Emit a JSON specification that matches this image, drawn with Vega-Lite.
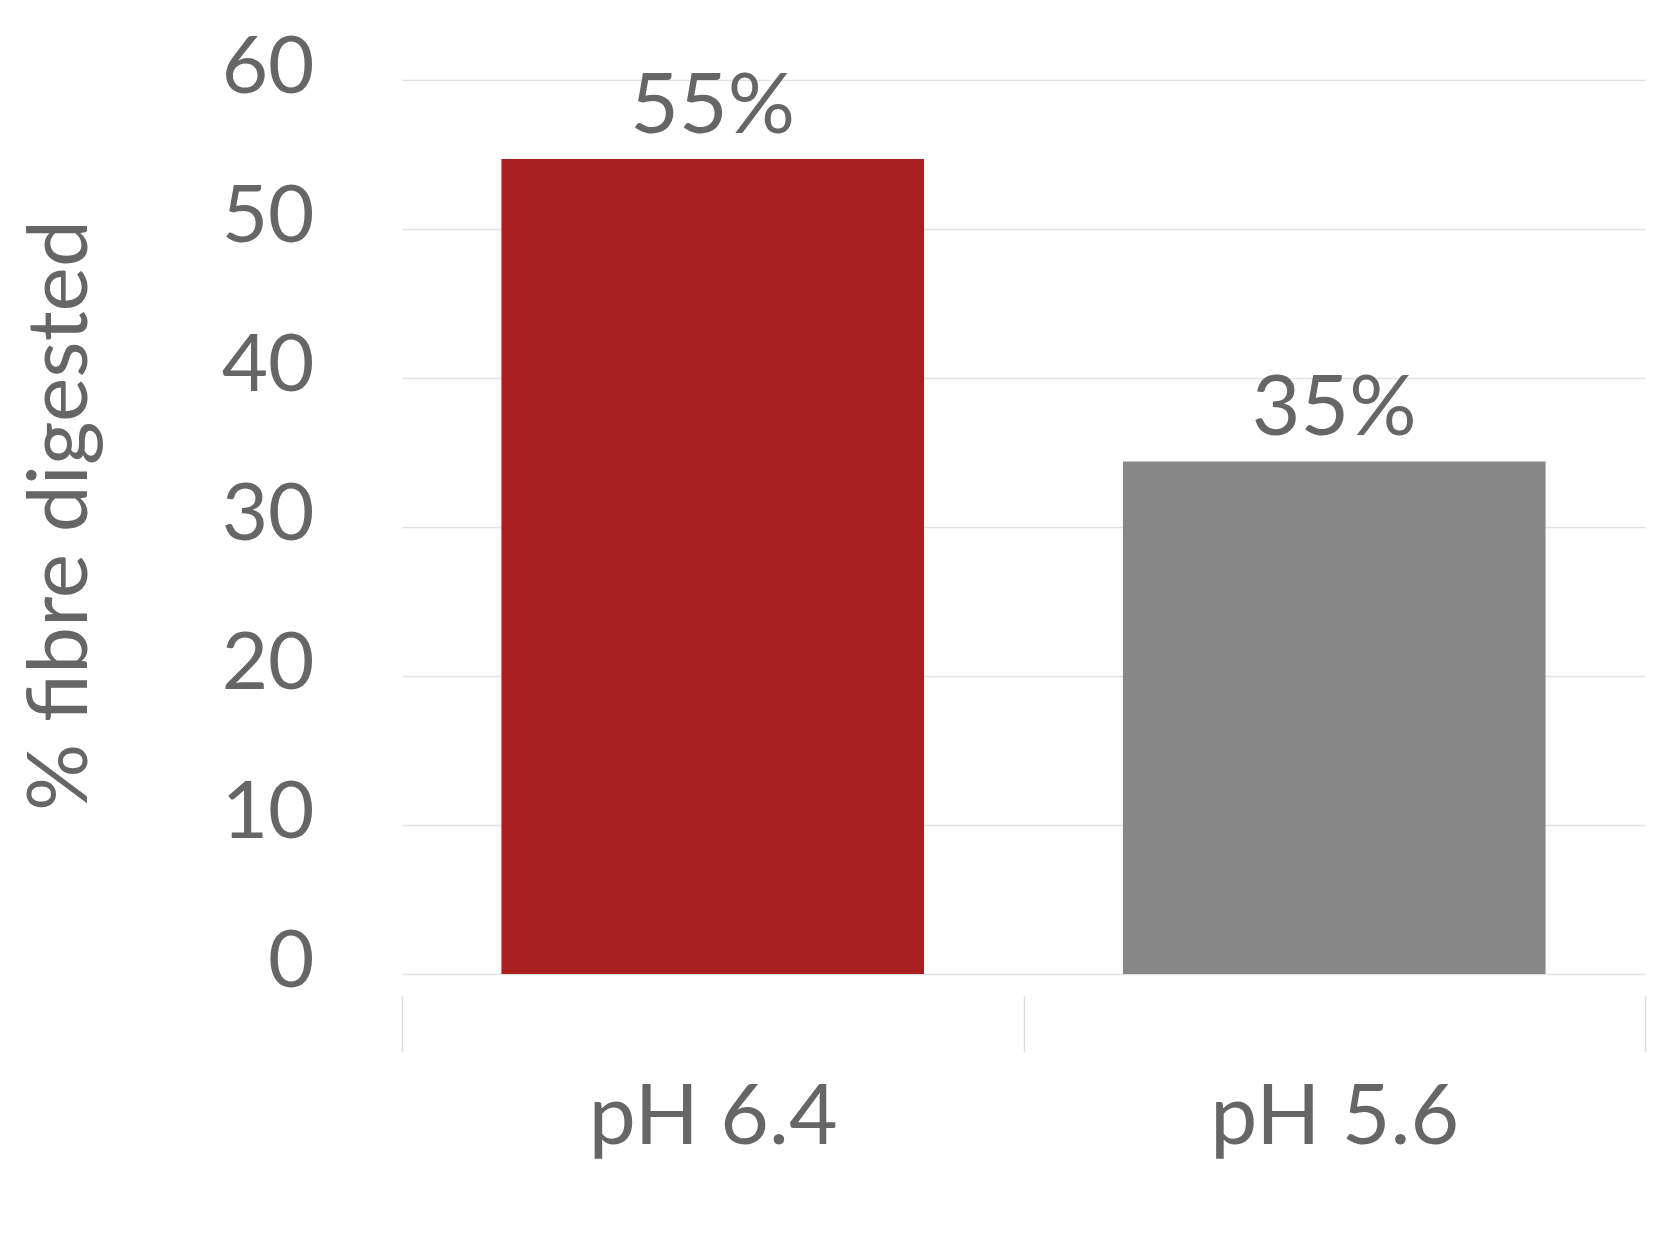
{
  "$schema": "https://vega.github.io/schema/vega-lite/v6.json",
  "autosize": {"type": "none"},
  "padding": {"left": 402, "top": 80, "right": 22, "bottom": 196},
  "width": 1243,
  "height": 894,
  "background": "white",
  "config": {
    "font": "Lato",
    "view": {"stroke": null},
    "axis": {"labelColor": "#666666", "titleColor": "#666666", "labelFont": "Lato", "titleFont": "Lato"}
  },
  "data": {
    "values": [
      {"condition": "pH 6.4", "digested": 54.7, "label": "55%"},
      {"condition": "pH 5.6", "digested": 34.4, "label": "35%"}
    ]
  },
  "encoding": {
    "x": {
      "field": "condition",
      "type": "nominal",
      "sort": null,
      "scale": {"paddingInner": 0, "paddingOuter": 0},
      "axis": {
        "title": null,
        "labelAngle": 0,
        "labelFontSize": 84,
        "labelLimit": 0,
        "labelBaseline": "alphabetic",
        "labelPadding": 91,
        "domain": false,
        "ticks": true,
        "tickBand": "extent",
        "tickColor": "#dddddd",
        "tickWidth": 1.5,
        "tickSize": 56,
        "offset": 22,
        "grid": false
      }
    },
    "y": {
      "field": "digested",
      "type": "quantitative",
      "scale": {"domain": [0, 60]},
      "axis": {
        "title": "% fibre digested",
        "titleFontSize": 84,
        "titleFontWeight": "normal",
        "titleAngle": -90,
        "titleX": -341,
        "titleY": 435,
        "titleAlign": "center",
        "titleBaseline": "middle",
        "values": [0, 10, 20, 30, 40, 50, 60],
        "labelFontSize": 80,
        "labelPadding": 88,
        "labelOffset": -12,
        "ticks": false,
        "domain": false,
        "grid": true,
        "gridColor": "#e3e3e3",
        "gridWidth": 1.5
      }
    }
  },
  "layer": [
    {
      "mark": {"type": "bar", "width": {"band": 0.68}},
      "encoding": {
        "color": {
          "field": "condition",
          "type": "nominal",
          "scale": {"domain": ["pH 6.4", "pH 5.6"], "range": ["#AA1F20", "#878787"]},
          "legend": null
        }
      }
    },
    {
      "mark": {"type": "text", "fontSize": 84, "color": "#666666", "baseline": "alphabetic", "dy": -26, "font": "Lato"},
      "encoding": {"text": {"field": "label"}}
    }
  ]
}
